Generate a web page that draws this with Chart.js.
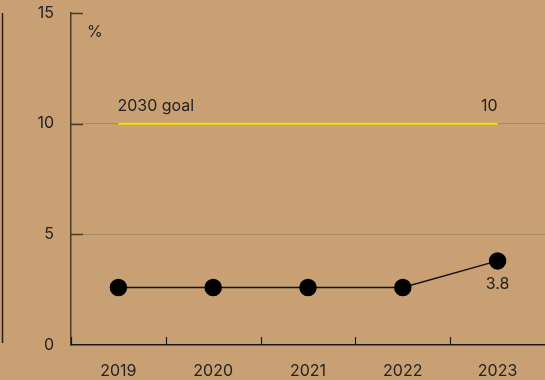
<!DOCTYPE html>
<html>
<head>
<meta charset="utf-8">
<script src="https://cdn.jsdelivr.net/npm/chart.js@4.4.1/dist/chart.umd.min.js"></script>
<style>
  html, body { margin: 0; padding: 0; background: #c9a074; overflow: hidden; }
  #wrap { width: 545px; height: 380px; position: relative; }
  canvas { display: block; }
</style>
</head>
<body>
<div id="wrap"><canvas id="chart"></canvas></div>
<script>
const years = ['2019', '2020', '2021', '2022', '2023']
const shareValues = [2.6, 2.6, 2.6, 2.6, 3.8]
const goalValues = [10, 10, 10, 10, 10]
const yTicks = [0, 5, 10, 15]
const goalLabel = '2030 goal'
const unitLabel = '%'

const FONT = 'Inter, "Noto Sans", sans-serif'
const TEXT = '#222'
const SIZE = 16

// inward ticks, extra labels, and the edge of the neighbour panel
const annotations = {
  id: 'annotations',
  afterDatasetsDraw(chart) {
    const { ctx, chartArea, scales } = chart
    const x = scales.x
    const y = scales.y
    ctx.save()

    // neighbour panel edge at far left
    ctx.strokeStyle = '#2a2016'
    ctx.lineWidth = 1.5
    ctx.beginPath()
    ctx.moveTo(2.5, chartArea.top)
    ctx.lineTo(2.5, chartArea.bottom - 2)
    ctx.stroke()

    // y ticks pointing right
    ctx.strokeStyle = '#4a3a2a'
    ctx.lineWidth = 1.5
    yTicks.filter((v) => v > 0).forEach((v) => {
      const py = Math.round(y.getPixelForValue(v)) + 0.5
      ctx.beginPath()
      ctx.moveTo(chartArea.left, py)
      ctx.lineTo(chartArea.left + 12, py)
      ctx.stroke()
    })

    // x ticks pointing up, at category boundaries
    ctx.strokeStyle = '#1a1a1a'
    ctx.lineWidth = 1.2
    const step = x.getPixelForValue(1) - x.getPixelForValue(0)
    for (let i = 0; i < years.length; i++) {
      const px = Math.round(x.getPixelForValue(i) - step / 2) + 0.5
      ctx.beginPath()
      ctx.moveTo(px, chartArea.bottom)
      ctx.lineTo(px, chartArea.bottom - 8)
      ctx.stroke()
    }

    ctx.fillStyle = TEXT
    ctx.font = SIZE + 'px ' + FONT
    ctx.textBaseline = 'middle'

    ctx.textAlign = 'left'
    ctx.fillText(unitLabel, chartArea.left + 16, chartArea.top + 19)

    const gy = y.getPixelForValue(goalValues[0]) - 17
    ctx.fillText(goalLabel, x.getPixelForValue(0) - 1, gy)
    ctx.textAlign = 'right'
    ctx.fillText(String(goalValues[goalValues.length - 1]), x.getPixelForValue(years.length - 1), gy)

    const last = shareValues.length - 1
    ctx.textAlign = 'center'
    ctx.fillText(String(shareValues[last]), x.getPixelForValue(last), y.getPixelForValue(shareValues[last]) + 23)

    ctx.restore()
  },
}

new Chart(document.getElementById('chart'), {
  type: 'line',
  data: {
    labels: years,
    datasets: [
      {
        label: 'goal',
        data: goalValues,
        borderColor: '#f2e000',
        borderWidth: 2,
        pointRadius: 0,
        order: 2,
      },
      {
        label: 'share',
        data: shareValues,
        borderColor: '#111',
        borderWidth: 1.5,
        backgroundColor: '#000',
        pointBackgroundColor: '#000',
        pointBorderColor: '#000',
        pointRadius: 8,
        order: 1,
      },
    ],
  },
  options: {
    responsive: true,
    maintainAspectRatio: false,
    animation: false,
    layout: { autoPadding: false, padding: { top: 13, right: 0, left: 0, bottom: 0 } },
    plugins: {
      legend: { display: false },
      tooltip: { enabled: false },
    },
    scales: {
      x: {
        offset: true,
        grid: { display: false, drawTicks: false },
        border: { display: true, color: '#1a1a1a', width: 1.5 },
        ticks: {
          color: TEXT,
          font: { family: FONT, size: SIZE },
          padding: 17,
          maxRotation: 0,
        },
        afterFit(scale) {
          scale.height = 35
          scale.paddingLeft = 0
          scale.paddingRight = 0
        },
      },
      y: {
        min: 0,
        max: 15,
        afterBuildTicks(scale) { scale.ticks = yTicks.map((v) => ({ value: v })) },
        grid: {
          drawTicks: false,
          lineWidth: 1,
          color: (c) => (c.tick && (c.tick.value === 5 || c.tick.value === 10) ? '#a68a6c' : 'rgba(0,0,0,0)'),
        },
        border: { display: true, color: '#4a3a2a', width: 1.5 },
        ticks: {
          color: TEXT,
          font: { family: FONT, size: SIZE },
          padding: 17,
        },
        afterFit(scale) {
          scale.width = 71
          scale.paddingTop = 0
          scale.paddingBottom = 0
        },
      },
    },
  },
  plugins: [annotations],
})
</script>
</body>
</html>
